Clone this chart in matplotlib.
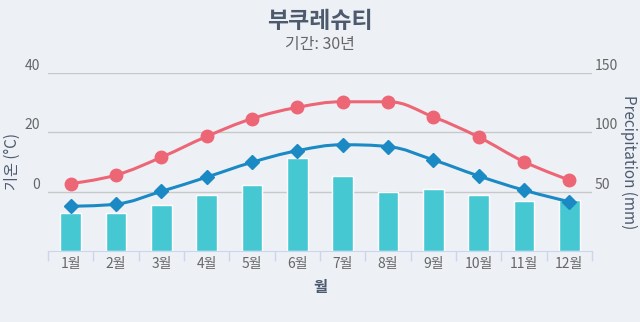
import numpy as np
import matplotlib
matplotlib.use('Agg')
import matplotlib.pyplot as plt
from matplotlib.path import Path
from matplotlib.patches import PathPatch

plt.rcParams['font.family'] = ['Noto Sans CJK KR', 'DejaVu Sans']

# ---------------------------------------------------------------------------
# Data
# ---------------------------------------------------------------------------
months = ['1월', '2월', '3월', '4월', '5월', '6월',
          '7월', '8월', '9월', '10월', '11월', '12월']
temp_max = [2.7, 5.6, 11.6, 18.6, 24.6, 28.4, 30.3, 30.3, 25.2, 18.4, 10.1, 3.9]
temp_avg = [-4.9, -4.2, 0.1, 4.9, 9.9, 13.8, 15.8, 15.2, 10.7, 5.3, 0.5, -3.4]
precip = [32, 32, 39, 47, 56, 78, 63, 50, 52, 47, 42, 43]

title = '부쿠레슈티'
subtitle = '기간: 30년'

BG = '#edf1f6'
RED = '#ed6675'
BLUE = '#1b8ac4'
BAR = '#45c8d2'
TXT = '#4d5a6e'
GRID = '#c8c8c8'


def spline_path(xs, ys, smoothing=1.5):
    """Highcharts-style spline: cubic bezier control points per point."""
    xs = np.asarray(xs, float)
    ys = np.asarray(ys, float)
    n = len(xs)
    left = [(xs[i], ys[i]) for i in range(n)]
    right = [(xs[i], ys[i]) for i in range(n)]
    denom = smoothing + 1
    for i in range(1, n - 1):
        px, py = xs[i], ys[i]
        lx, ly = xs[i - 1], ys[i - 1]
        nx, ny = xs[i + 1], ys[i + 1]
        lcx = (smoothing * px + lx) / denom
        lcy = (smoothing * py + ly) / denom
        rcx = (smoothing * px + nx) / denom
        rcy = (smoothing * py + ny) / denom
        if rcx != lcx:
            corr = (rcy - lcy) * (rcx - px) / (rcx - lcx) + py - rcy
            lcy += corr
            rcy += corr
        if lcy > ly and lcy > py:
            lcy = max(ly, py)
            rcy = 2 * py - lcy
        elif lcy < ly and lcy < py:
            lcy = min(ly, py)
            rcy = 2 * py - lcy
        if rcy > ny and rcy > py:
            rcy = max(ny, py)
            lcy = 2 * py - rcy
        elif rcy < ny and rcy < py:
            rcy = min(ny, py)
            lcy = 2 * py - rcy
        left[i] = (lcx, lcy)
        right[i] = (rcx, rcy)
    verts = [(xs[0], ys[0])]
    codes = [Path.MOVETO]
    for i in range(1, n):
        verts += [right[i - 1], left[i], (xs[i], ys[i])]
        codes += [Path.CURVE4] * 3
    return Path(verts, codes)


fig = plt.figure(figsize=(6.4, 3.22), dpi=100, facecolor=BG)
ax = fig.add_axes([48 / 640, 1 - 251 / 322, 544 / 640, 178 / 322])
ax2 = ax.twinx()
ax.set_zorder(2)
ax2.set_zorder(1)
ax.patch.set_visible(False)
ax2.patch.set_facecolor(BG)

x = np.arange(len(months))

# precipitation bars on the right axis
ax2.bar(x, precip, width=0.46, color=BAR, edgecolor='white', linewidth=1, zorder=2)
ax2.set_ylim(0, 150)
ax2.set_yticks([50, 100, 150])
ax2.grid(axis='y', color=GRID, linewidth=1)
ax2.set_axisbelow(True)
ax2.tick_params(axis='y', length=0, pad=2, labelsize=10, labelcolor='#666666')
for lbl in ax2.get_yticklabels():
    lbl.set_verticalalignment('bottom')
ax2.set_ylabel('Precipitation (mm)', rotation=270, color=TXT, fontsize=11,
               labelpad=14)

# temperature lines on the left axis
for vals, color, marker, ms in [(temp_max, RED, 'o', 9), (temp_avg, BLUE, 'D', 7)]:
    ax.add_patch(PathPatch(spline_path(x, vals), fill=False, edgecolor=color,
                           linewidth=2.2, zorder=3))
    ax.plot(x, vals, linestyle='none', marker=marker, markersize=ms,
            color=color, zorder=4)

ax.set_xlim(-0.5, len(months) - 0.5)
ax.set_ylim(-20, 40)
ax.set_yticks([0, 20, 40])
ax.tick_params(axis='y', length=0, pad=6, labelsize=10, labelcolor='#666666')
for lbl in ax.get_yticklabels():
    lbl.set_verticalalignment('bottom')
ax.set_ylabel('기온 (°C)', color=TXT, fontsize=11)
ax.yaxis.set_label_coords(-0.05, 0.5)

ax.set_xticks(x)
ax.set_xticklabels(months)
ax.set_xticks(np.arange(-0.5, len(months)), minor=True)
ax.tick_params(axis='x', which='major', length=0, pad=4, labelsize=10,
               labelcolor='#666666')
ax.tick_params(axis='x', which='minor', length=7, color='#ccd6eb', width=1)
ax.set_xlabel('월', color=TXT, fontsize=11, fontweight='bold', labelpad=6)

for a in (ax, ax2):
    for s in a.spines.values():
        s.set_visible(False)
ax.spines['bottom'].set_visible(True)
ax.spines['bottom'].set_color('#ccd6eb')

fig.text(0.5, 1 - 22 / 322, title, ha='center', va='center', fontsize=16.5,
         fontweight='bold', color=TXT)
fig.text(0.5, 1 - 45 / 322, subtitle, ha='center', va='center', fontsize=11.5,
         color='#666666')

fig.savefig('out.png', dpi=100, facecolor=BG)
